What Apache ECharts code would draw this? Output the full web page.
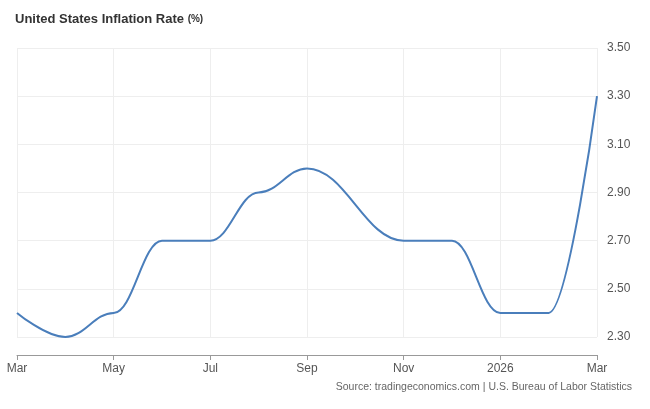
<!DOCTYPE html><html><head><meta charset="utf-8">
<script src="https://cdn.jsdelivr.net/npm/echarts@6/dist/echarts.min.js"></script>
<style>html,body{margin:0;background:#fff}#c{width:650px;height:409px}</style></head><body><div id="c"></div>
<script>
const months=['Mar','Apr','May','Jun','Jul','Aug','Sep','Oct','Nov','Dec','2026','Feb','Mar'];
const inflation=[2.4,2.3,2.4,2.7,2.7,2.9,3.0,null,2.7,2.7,2.4,2.4,3.3];
const c=echarts.init(document.getElementById('c'));
c.setOption({
 animation:false,
 title:{text:'United States Inflation Rate {s|(%)}',left:10,top:8,textStyle:{fontFamily:'Arial, Liberation Sans',fontSize:13,fontWeight:'bold',color:'#333',rich:{s:{fontSize:10,fontWeight:'bold',color:'#333'}}}},
 graphic:[{type:'text',right:18,top:382,style:{text:'Source: tradingeconomics.com | U.S. Bureau of Labor Statistics',fontSize:10.5,fill:'#666',fontFamily:'Arial, Liberation Sans'}}],
 grid:{left:17,right:53,top:48,bottom:72},
 xAxis:{type:'category',boundaryGap:false,data:months,offset:18,
  axisLine:{lineStyle:{color:'#999'}},axisTick:{show:true,interval:1,alignWithLabel:true,lineStyle:{color:'#999'}},
  axisLabel:{interval:1,color:'#555',fontSize:12,fontFamily:'Arial, Liberation Sans',margin:8},
  splitLine:{show:true,interval:1,lineStyle:{color:'#eee'}}},
 yAxis:{type:'value',position:'right',min:2.3,max:3.5,interval:0.2,
  axisLabel:{formatter:v=>v.toFixed(2),color:'#555',fontSize:12,fontFamily:'Arial, Liberation Sans',margin:10},
  splitLine:{lineStyle:{color:'#eee'}},axisLine:{show:false},axisTick:{show:false}},
 series:[{type:'line',data:inflation,connectNulls:true,smooth:0.4,smoothMonotone:'x',showSymbol:false,lineStyle:{color:'#4a7ebb',width:2}}]
});
</script></body></html>
